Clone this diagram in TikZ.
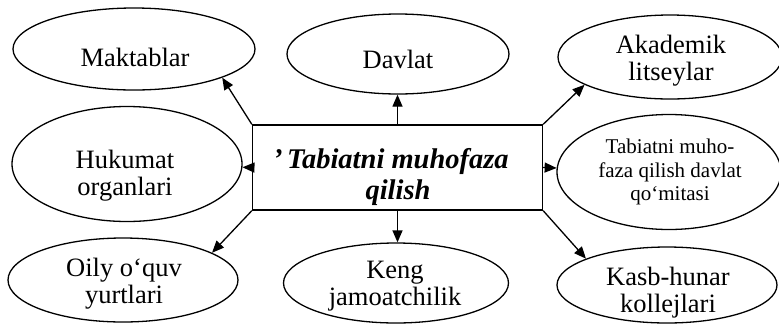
\documentclass[tikz,border=0pt]{standalone}
\usepackage{fontspec}
\setmainfont{Liberation Serif}
\usetikzlibrary{shapes.geometric,arrows.meta}
\begin{document}
\begin{tikzpicture}[x=1pt,y=-1pt,
  oval/.style={draw, ellipse, line width=1.3pt, inner sep=0pt},
  txt/.style={inner sep=0pt, align=center, font=\fontsize{26.5}{27}\selectfont},
  small/.style={inner sep=0pt, align=center, font=\fontsize{21}{23.5}\selectfont},
  centre/.style={draw, line width=1.3pt, inner sep=0pt},
  ctxt/.style={inner sep=0pt, align=center, font=\fontsize{28.5}{31}\selectfont\bfseries\itshape},
  arr/.style={line width=1.3pt, -{Triangle[length=12pt,width=10pt]}},
]
\useasboundingbox (0,0) rectangle (779,325);
% ellipses
\node[oval, minimum width=242pt, minimum height=82pt] (mak) at (134,49) {};
\node[oval, minimum width=222pt, minimum height=80pt] (dav) at (398,54) {};
\node[oval, minimum width=224pt, minimum height=84pt] (aka) at (670,57) {};
\node[oval, minimum width=230pt, minimum height=115pt] (huk) at (127,164) {};
\node[oval, minimum width=224pt, minimum height=115pt] (tab) at (669,172) {};
\node[oval, minimum width=230pt, minimum height=84pt] (oily) at (123,280) {};
\node[oval, minimum width=225pt, minimum height=80pt] (keng) at (396,283) {};
\node[oval, minimum width=220pt, minimum height=76pt] (kasb) at (667,285) {};
% texts
\node[txt] (makt) at (135,57) {Maktablar};
\node[txt] (davt) at (398,59) {Davlat};
\node[txt] (akat) at (671,60.5) {Akademik\\litseylar};
\node[txt] (hukt) at (125,176) {Hukumat\\organlari};
\node[small] (tabt) at (670,172) {Tabiatni muho-\\faza qilish davlat\\qo‘mitasi};
\node[txt] (oilyt) at (124,284) {Oily o‘quv\\yurtlari};
\node[txt] (kengt) at (395,286) {Keng\\jamoatchilik};
\node[txt] (kasbt) at (668,293) {Kasb-hunar\\kollejlari};
% centre box
\node[centre, minimum width=290pt, minimum height=85pt] (box) at (397.5,167.5) {};
\node[ctxt] (boxt) at (398,177) {\llap{’\,}Tabiatni muhofaza\\qilish};
% connectors
\draw[arr] (box.north west) -- (mak.-18);
\draw[arr] (box.north) -- (box.north |- dav.south);
\draw[arr] (box.north east) -- (aka.198);
\draw[arr] (box.west) -- (huk);
\draw[arr] (box.east) -- (tab);
\draw[arr] (box.south west) -- (oily.17);
\draw[arr] (box.south) -- (box.south |- keng.north);
\draw[arr] (box.south east) -- (kasb.162);
\end{tikzpicture}
\end{document}
